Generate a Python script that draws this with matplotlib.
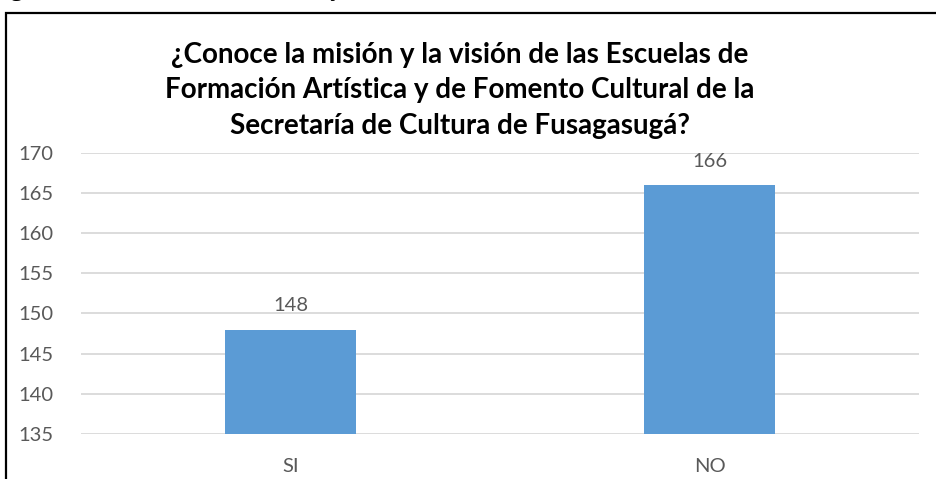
import matplotlib
matplotlib.use("Agg")
import matplotlib.pyplot as plt
from matplotlib.patches import Rectangle

# datos de la grafica
categorias = ["SI", "NO"]
valores = [148, 166]
ticks_y = [135, 140, 145, 150, 155, 160, 165, 170]
titulo = ("¿Conoce la misión y la visión de las Escuelas de\n"
          "Formación Artística y de Fomento Cultural de la\n"
          "Secretaría de Cultura de Fusagasugá?")
leyenda_figura = "Figura 18. Conocimiento misión y visión"

azul = "#5B9BD5"
gris_texto = "#595959"
gris_linea = "#D9D9D9"

plt.rcParams["font.family"] = ["Lato", "DejaVu Sans"]

fig = plt.figure(figsize=(9.36, 4.79), dpi=100)
W, H = 936, 479

# marco negro del documento
fig.add_artist(Rectangle((6 / W, -0.1), 1.2, (479 - 13) / H + 0.1,
                         transform=fig.transFigure, fill=False,
                         edgecolor="black", linewidth=1.6))

# texto del documento cortado arriba (solo se ven los trazos bajos)
fig.text(-11 / W, 1 + 4 / H, leyenda_figura, family="Liberation Serif",
         fontsize=18.5, ha="left", va="baseline", color="black")

ax = fig.add_axes([81 / W, (479 - 434) / H, (919 - 81) / W, (434 - 152.7) / H])
pos = range(len(categorias))
barras = ax.bar(pos, valores, width=0.315, color=azul, zorder=3)
ax.set_ylim(135, 170)
ax.set_xlim(-0.5, 1.5)
ax.set_yticks(ticks_y)
ax.set_xticks(list(pos))
ax.set_xticklabels(categorias)
ax.tick_params(axis="both", length=0, colors=gris_texto, labelsize=14.5)
ax.tick_params(axis="y", pad=20)
ax.tick_params(axis="x", pad=17)
ax.grid(axis="y", color=gris_linea, linewidth=1.3, zorder=0)
for s in ax.spines.values():
    s.set_visible(False)

for b, v in zip(barras, valores):
    ax.annotate(str(v), (b.get_x() + b.get_width() / 2, v), xytext=(0, 11),
                textcoords="offset points", ha="center", va="bottom",
                color=gris_texto, fontsize=14.5)

fig.text(460 / W, 1 - 42 / H, titulo, ha="center", va="top", fontsize=20,
         fontweight="bold", color="black", linespacing=1.45)

fig.savefig("out.png", dpi=100)
